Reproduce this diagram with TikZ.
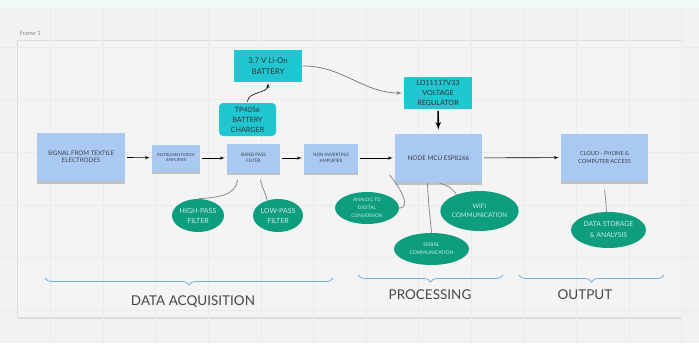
\documentclass[tikz,border=0pt]{standalone}
\usepackage{fontspec}
\setmainfont{Lato}
\usepackage{xcolor}
\usepackage{tikz}
\usetikzlibrary{shapes, arrows, positioning, calc, shadows, decorations.pathreplacing}
\definecolor{noteblue}{RGB}{170,201,242}
\definecolor{powercyan}{RGB}{32,198,208}
\definecolor{featgreen}{RGB}{14,158,126}
\definecolor{braceblue}{RGB}{118,176,232}
\definecolor{canvasgray}{RGB}{242,242,242}
\definecolor{framegray}{RGB}{244,244,244}
\definecolor{gridgray}{RGB}{235,235,235}
\definecolor{inkgray}{RGB}{58,66,78}
\definecolor{topmint}{RGB}{238,250,248}
\tikzstyle{block} = [rectangle, fill=noteblue, text=inkgray, align=center, inner sep=0pt, drop shadow={shadow xshift=0pt, shadow yshift=-2.5pt, opacity=0.3, fill=black!70}]
\tikzstyle{power} = [rectangle, fill=powercyan, text=black!80, align=center, inner sep=0pt, font=\fontsize{7.2}{10}\selectfont]
\tikzstyle{feature} = [ellipse, fill=featgreen, text=white!78!featgreen, align=center, inner sep=0pt]
\tikzstyle{arrow} = [draw, -latex', black, line width=0.6pt, shorten >=2pt, shorten <=2pt]
\tikzstyle{link} = [draw, black!45, line width=0.8pt]
\tikzstyle{bracket} = [decorate, decoration={brace, mirror, amplitude=7pt}, draw=braceblue, line width=0.8pt]
\tikzstyle{phase} = [text=black!72, font=\fontsize{13.5}{15}\selectfont]

\begin{document}
\begin{tikzpicture}[x=1pt, y=-1pt]
    % Board
    \useasboundingbox (0,0) rectangle (699,343);
    \fill[canvasgray] (0,0) rectangle (699,343);
    \fill[topmint] (0,0) rectangle (699,7);
    \draw[draw=black!14, fill=framegray, drop shadow={shadow xshift=0.5pt, shadow yshift=-1.5pt, opacity=0.2}] (17,40) rectangle (681,317);
    \foreach \gx in {-2.1,50.5,...,699} \draw[gridgray, line width=0.6pt] (\gx,7) -- (\gx,343);
    \foreach \gy in {47,99.6,...,343} \draw[gridgray, line width=0.6pt] (0,\gy) -- (699,\gy);
    \node (framelbl) [anchor=west, text=black!45, font=\fontsize{6}{7}\selectfont] at (16,33) {Frame 1};

    % Signal chain
    \node (sig) [block, minimum width=88pt, minimum height=48pt, font=\fontsize{6.2}{7.5}\selectfont] at (81,157) {SIGNAL FROM TEXTILE\\ELECTRODES};
    \node (ina) [block, minimum width=48pt, minimum height=27pt, font=\fontsize{4}{5}\selectfont] at (176,158) {INSTRUMENTATION\\AMPLIFIER};
    \node (bpf) [block, minimum width=53pt, minimum height=29pt, font=\fontsize{4.6}{6}\selectfont] at (253.5,158) {BAND PASS\\FILTER};
    \node (nia) [block, minimum width=54pt, minimum height=29pt, font=\fontsize{4.5}{5.5}\selectfont] at (331,158) {NON-INVERTING\\AMPLIFIER};
    \node (mcu) [block, minimum width=87pt, minimum height=48pt, font=\fontsize{6.3}{7}\selectfont] at (438.5,158) {NODE MCU ESP8266};
    \node (cld) [block, minimum width=87pt, minimum height=47pt, font=\fontsize{5.6}{8}\selectfont] at (604.5,157.5) {CLOUD - PHONE \&\\COMPUTER ACCESS};

    % Power
    \node (bat) [power, minimum width=68pt, minimum height=32pt, font=\fontsize{7.8}{11}\selectfont] at (268,66) {3.7 V Li-On\\BATTERY};
    \node (chg) [power, rounded corners=4pt, minimum width=57pt, minimum height=33pt] at (247.5,119.5) {TP4056\\BATTERY\\CHARGER};
    \node (reg) [power, minimum width=68pt, minimum height=32pt] at (438,93) {LD11117V33\\VOLTAGE\\REGULATOR};

    % Functions
    \node (hpf) [feature, minimum width=52pt, minimum height=33pt, font=\fontsize{7}{10}\selectfont] at (198,215.5) {HIGH-PASS\\FILTER};
    \node (lpf) [feature, minimum width=50pt, minimum height=33pt, font=\fontsize{7}{10}\selectfont] at (278,215.5) {LOW-PASS\\FILTER};
    \node (adc) [feature, minimum width=64pt, minimum height=32pt, font=\fontsize{4.8}{8}\selectfont] at (367,208) {ANALOG TO\\DIGITAL\\CONVERSION};
    \node (wifi) [feature, minimum width=75pt, minimum height=40pt, font=\fontsize{6.3}{9}\selectfont] at (479.5,211) {WIFI\\COMMUNICATION};
    \node (ser) [feature, minimum width=75pt, minimum height=32pt, font=\fontsize{5}{8}\selectfont] at (431.5,249) {SERIAL\\COMMUNICATION};
    \node (dsa) [feature, minimum width=75pt, minimum height=36pt, font=\fontsize{6.8}{11}\selectfont] at (608.5,230) {DATA STORAGE\\\& ANALYSIS};

    \draw [arrow] (sig) -- (ina);
    \draw [arrow] (ina) -- (bpf);
    \draw [arrow] (bpf) -- (nia);
    \draw [arrow] (nia) -- (mcu);
    \draw [arrow] (mcu) -- (cld);
    \draw [arrow, line width=1.6pt, shorten <=2pt, shorten >=4pt] (reg) -- (mcu);
    \draw [arrow, black!55, line width=0.7pt, shorten <=1pt] (bat.east) to[out=0, in=180] (reg.west);
    \draw [arrow, line width=0.6pt, shorten <=1pt, shorten >=1pt] (chg.north) to[out=90, in=-90] (bat.south);

    % Links
    \draw [link] ([xshift=-16pt, yshift=-7pt]bpf.south) to[out=-95, in=5] (hpf.north);
    \draw [link] ([xshift=7pt, yshift=-7pt]bpf.south) to[out=-80, in=100] ([xshift=-11pt, yshift=-1.5pt]lpf.north);
    \draw [link] ([xshift=-5pt, yshift=7pt]mcu.south west) to[out=-50, in=0] (adc.east);
    \draw [link] ([xshift=-11pt, yshift=-1pt]mcu.south) to[out=-88, in=95] (ser.north);
    \draw [link] ([xshift=1pt, yshift=-1pt]mcu.south) to[out=-15, in=120] ([xshift=-23pt, yshift=-4pt]wifi.north);
    \draw [link] ([yshift=-9pt]cld.south) to[out=-80, in=95] ([xshift=-2pt]dsa.north);

    % Phases
    \coordinate (acqL) at (45,278);
    \coordinate (acqR) at (333,278);
    \coordinate (proL) at (358,275);
    \coordinate (proR) at (503,275);
    \coordinate (outL) at (519,275);
    \coordinate (outR) at (664,275);
    \draw [bracket] (acqL) -- (acqR);
    \draw [bracket] (proL) -- (proR);
    \draw [bracket] (outL) -- (outR);
    \node (acqlbl) [phase] at (193,302) {DATA ACQUISITION};
    \node (prolbl) [phase] at (430,295) {PROCESSING};
    \node (outlbl) [phase] at (585,295) {OUTPUT};
\end{tikzpicture}
\end{document}
